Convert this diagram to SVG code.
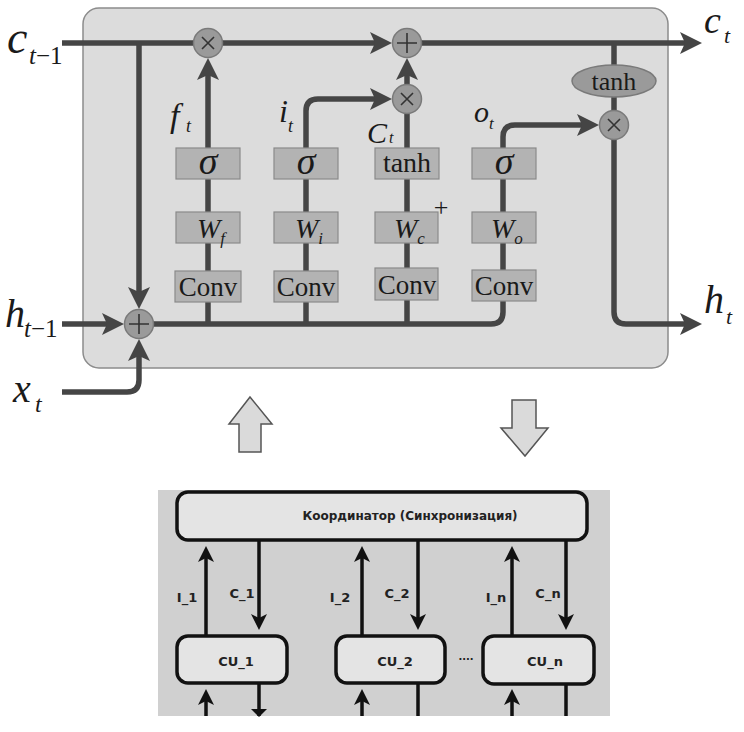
<svg xmlns="http://www.w3.org/2000/svg" width="744" height="732" viewBox="0 0 744 732">
<style>
.panel{fill:#dcdcdc;stroke:#8c8c8c;stroke-width:1.5}
.box{fill:#b3b3b3;stroke:#8a8a8a;stroke-width:1.2}
.op{fill:#9a9a9a;stroke:#7a7a7a;stroke-width:1.5}
.ln{fill:none;stroke:#454545;stroke-width:5.5}
.sym{fill:none;stroke:#333;stroke-width:1.6}
.mi{font-family:"Liberation Serif","Times New Roman","DejaVu Serif",serif;font-style:italic;fill:#1a1a1a}
.rm{font-family:"Liberation Serif","Times New Roman","DejaVu Serif",serif;fill:#1a1a1a}
.bp{fill:#d0d0d0}
.bx{fill:#e4e4e4;stroke:#111;stroke-width:3.5}
.bl{fill:none;stroke:#111;stroke-width:3.5}
.bt{font-family:"DejaVu Sans",sans-serif;font-weight:bold;fill:#222}
.blk{fill:#dadada;stroke:#555;stroke-width:1.5}
</style>
<defs>
<marker id="ah" markerUnits="userSpaceOnUse" markerWidth="24" markerHeight="24" refX="14" refY="11" orient="auto">
<path d="M0,0 L22,11 L0,22 L5,11 z" fill="#454545"/>
</marker>
<marker id="bh" markerUnits="userSpaceOnUse" markerWidth="18" markerHeight="18" refX="10" refY="8" orient="auto">
<path d="M0,0 L16,8 L0,16 L4,8 z" fill="#111"/>
</marker>
</defs>

<g id="lstm-panel">
<rect class="panel" x="83" y="8" width="585" height="360" rx="16"/>
</g>

<g id="connectors">
<path class="ln" d="M62,43 H384" marker-end="url(#ah)"/>
<path class="ln" d="M407,43 H694" marker-end="url(#ah)"/>
<path class="ln" d="M139,43 V301" marker-end="url(#ah)"/>
<path class="ln" d="M62,324 H116" marker-end="url(#ah)"/>
<path class="ln" d="M62,392 H127 Q139,392 139,380 V347" marker-end="url(#ah)"/>
<path class="ln" d="M208,324 V66" marker-end="url(#ah)"/>
<path class="ln" d="M306,324 V111 Q306,99 318,99 H384" marker-end="url(#ah)"/>
<path class="ln" d="M407,324 V114"/>
<path class="ln" d="M407,84 V66" marker-end="url(#ah)"/>
<path class="ln" d="M139,324 H491 Q503,324 503,312 V137 Q503,125 515,125 H591" marker-end="url(#ah)"/>
<path class="ln" d="M614,43 V312 Q614,324 626,324 H694" marker-end="url(#ah)"/>
</g>

<g id="mul-f"><circle class="op" cx="208" cy="43" r="14.5"/><path class="sym" d="M202,37 L214,49 M214,37 L202,49"/></g>
<g id="add-c"><circle class="op" cx="407" cy="43" r="14.5"/><path class="sym" d="M407,33 V53 M397,43 H417"/></g>
<g id="mul-i"><circle class="op" cx="407" cy="99" r="14.5"/><path class="sym" d="M401,93 L413,105 M413,93 L401,105"/></g>
<g id="mul-o"><circle class="op" cx="614" cy="125" r="14.5"/><path class="sym" d="M608,119 L620,131 M620,119 L608,131"/></g>
<g id="add-in"><circle class="op" cx="139" cy="324" r="14.5"/><path class="sym" d="M139,314 V334 M129,324 H149"/></g>
<g id="tanh-out"><ellipse class="op" cx="614" cy="81" rx="42" ry="16"/><text class="rm" x="614" y="90" font-size="26" text-anchor="middle">tanh</text></g>

<g id="sig-f"><rect class="box" x="176" y="148" width="64" height="31"/><text class="mi" x="208" y="174" font-size="38" text-anchor="middle">σ</text></g>
<g id="sig-i"><rect class="box" x="274" y="148" width="64" height="31"/><text class="mi" x="306" y="174" font-size="38" text-anchor="middle">σ</text></g>
<g id="tanh-c"><rect class="box" x="375" y="148" width="64" height="31"/><text class="rm" x="407" y="172" font-size="28" text-anchor="middle">tanh</text></g>
<g id="sig-o"><rect class="box" x="472" y="148" width="64" height="31"/><text class="mi" x="504" y="174" font-size="38" text-anchor="middle">σ</text></g>

<g id="w-f"><rect class="box" x="176" y="212" width="64" height="31"/><text class="mi" x="197" y="238" font-size="28">W<tspan font-size="17" dy="6">f</tspan></text></g>
<g id="w-i"><rect class="box" x="274" y="212" width="64" height="31"/><text class="mi" x="295" y="238" font-size="28">W<tspan font-size="17" dy="6">i</tspan></text></g>
<g id="w-c"><rect class="box" x="375" y="212" width="63" height="31"/><text class="mi" x="394" y="238" font-size="28">W<tspan font-size="17" dy="6">c</tspan></text></g>
<g id="w-o"><rect class="box" x="472" y="212" width="64" height="31"/><text class="mi" x="491" y="238" font-size="28">W<tspan font-size="17" dy="6">o</tspan></text></g>
<text class="rm" x="441" y="216" font-size="26" text-anchor="middle">+</text>

<g id="conv-f"><rect class="box" x="175" y="271" width="66" height="31"/><text class="rm" x="208" y="296" font-size="27" text-anchor="middle">Conv</text></g>
<g id="conv-i"><rect class="box" x="274" y="271" width="64" height="31"/><text class="rm" x="306" y="296" font-size="27" text-anchor="middle">Conv</text></g>
<g id="conv-c"><rect class="box" x="375" y="268" width="63" height="32"/><text class="rm" x="407" y="294" font-size="27" text-anchor="middle">Conv</text></g>
<g id="conv-o"><rect class="box" x="472" y="270" width="64" height="31"/><text class="rm" x="504" y="295" font-size="27" text-anchor="middle">Conv</text></g>

<g id="labels">
<text class="mi" x="7" y="53" font-size="46">c</text><text class="mi" x="29" y="64" font-size="25">t<tspan font-style="normal">−1</tspan></text>
<text class="mi" x="704" y="33" font-size="38">c</text><text class="mi" x="724" y="43" font-size="22">t</text>
<text class="mi" x="5" y="327" font-size="40">h</text><text class="mi" x="24" y="337" font-size="25">t<tspan font-style="normal">−1</tspan></text>
<text class="mi" x="13" y="402" font-size="40">x</text><text class="mi" x="35" y="412" font-size="24">t</text>
<text class="mi" x="704" y="313" font-size="40">h</text><text class="mi" x="726" y="324" font-size="22">t</text>
<text class="mi" x="170" y="127" font-size="34">f</text><text class="mi" x="186" y="132" font-size="18">t</text>
<text class="mi" x="279" y="122" font-size="32">i</text><text class="mi" x="288" y="132" font-size="18">t</text>
<text class="mi" x="367" y="143" font-size="30">C</text><text class="mi" x="389" y="143" font-size="16">t</text>
<text class="mi" x="474" y="122" font-size="30">o</text><text class="mi" x="489" y="129" font-size="17">t</text>
</g>

<g id="block-up"><path class="blk" d="M250,397 L272,424 L261,424 L261,452 L239,452 L239,424 L229,424 Z"/></g>
<g id="block-down"><path class="blk" d="M512,400 L536,400 L536,428 L548,428 L525,456 L501,428 L512,428 Z"/></g>

<g id="sub-panel"><rect class="bp" x="158" y="490" width="452" height="226"/></g>

<g id="sub-connectors">
<path class="bl" d="M206,636 V552" marker-end="url(#bh)"/>
<path class="bl" d="M259,540 V624" marker-end="url(#bh)"/>
<path class="bl" d="M362,636 V552" marker-end="url(#bh)"/>
<path class="bl" d="M418,540 V624" marker-end="url(#bh)"/>
<path class="bl" d="M512,636 V552" marker-end="url(#bh)"/>
<path class="bl" d="M566,540 V624" marker-end="url(#bh)"/>
<path class="bl" d="M206,716 V695" marker-end="url(#bh)"/>
<path class="bl" d="M362,716 V695" marker-end="url(#bh)"/>
<path class="bl" d="M512,716 V695" marker-end="url(#bh)"/>
<path class="bl" d="M259,683 V716"/>
<path class="bl" d="M418,683 V716"/>
<path class="bl" d="M566,683 V716"/>
<path d="M251,709 L259,717 L267,709 Z" fill="#111"/>
</g>

<g id="coordinator"><rect class="bx" x="177" y="492" width="410" height="48" rx="11"/><text class="bt" x="410" y="520" font-size="12" text-anchor="middle">Координатор (Синхронизация)</text></g>
<g id="cu1"><rect class="bx" x="177" y="636" width="110" height="47" rx="11"/><text class="bt" x="236" y="666" font-size="13" text-anchor="middle">CU_1</text></g>
<g id="cu2"><rect class="bx" x="336" y="636" width="109" height="47" rx="11"/><text class="bt" x="395" y="666" font-size="13" text-anchor="middle">CU_2</text></g>
<g id="cun"><rect class="bx" x="483" y="636" width="111" height="48" rx="11"/><text class="bt" x="545" y="666" font-size="13" text-anchor="middle">CU_n</text></g>
<text class="bt" x="466" y="663" font-size="10" text-anchor="middle">····</text>

<g id="sub-labels" font-size="13">
<text class="bt" x="187" y="602" text-anchor="middle">I_1</text>
<text class="bt" x="242" y="598" text-anchor="middle">C_1</text>
<text class="bt" x="340" y="602" text-anchor="middle">I_2</text>
<text class="bt" x="397" y="598" text-anchor="middle">C_2</text>
<text class="bt" x="496" y="602" text-anchor="middle">I_n</text>
<text class="bt" x="548" y="598" text-anchor="middle">C_n</text>
</g>
</svg>
